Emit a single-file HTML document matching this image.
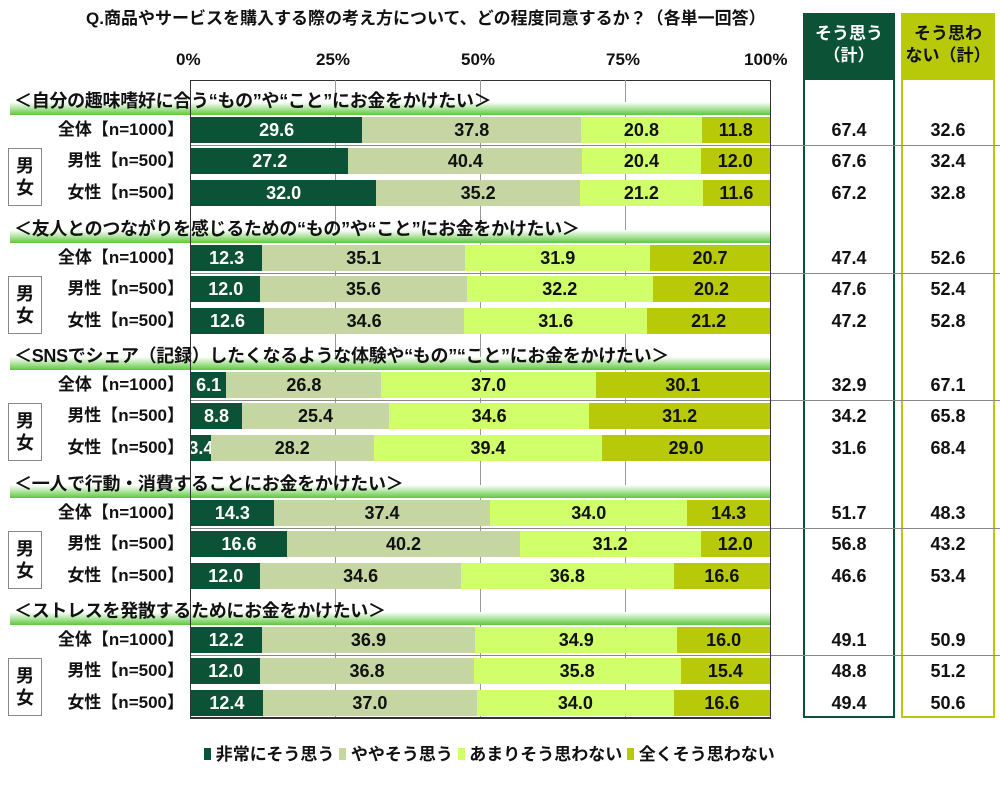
<!DOCTYPE html>
<html><head><meta charset="utf-8"><style>
body{margin:0;background:#fff;font-family:"Liberation Sans","Noto Sans CJK JP",sans-serif;font-weight:bold;color:#111}
#c{position:relative;width:1000px;height:786px;overflow:hidden}
.a{position:absolute}
.bar{position:absolute;left:191px;width:579px;height:26px;display:flex}
.bar div{height:100%;display:flex;align-items:center;justify-content:center;font-size:18px;overflow:visible;white-space:nowrap}
.d{background:#0c5236;color:#fff}.s{background:#c5d6a2}.l{background:#d0ff6a}.y{background:#b8c90a}
.lab{position:absolute;left:30px;width:154px;text-align:right;font-size:17px;line-height:26px;white-space:nowrap}
.hd{position:absolute;left:10px;width:760px;height:13px;background:linear-gradient(#fff,#5ec83c)}
.ht{position:absolute;left:14px;font-size:18px;white-space:nowrap;letter-spacing:-0.3px}
.v{position:absolute;font-size:18px;text-align:center;line-height:26px}
.mf{position:absolute;left:8px;width:34px;height:58px;border:1px solid #888;font-size:18px;text-align:center;line-height:22px;padding-top:6px;box-sizing:border-box}
.g{position:absolute;top:80px;height:638px;width:1px;background:#999}
.sep{position:absolute;left:190px;width:810px;height:1px;background:#888}
.t{position:absolute;top:50px;font-size:17px}
</style></head><body><div id="c">
<div class="a" style="left:86px;top:4px;font-size:17px;white-space:nowrap">Q.商品やサービスを購入する際の考え方について、どの程度同意するか？（各単一回答）</div>
<div class="t" style="left:176px">0%</div>
<div class="t" style="left:316px">25%</div>
<div class="t" style="left:461px">50%</div>
<div class="t" style="left:606px">75%</div>
<div class="t" style="left:744px">100%</div>
<div class="a" style="left:190px;top:80px;width:581px;height:1px;background:#333"></div>
<div class="g" style="left:335px"></div><div class="g" style="left:480px"></div><div class="g" style="left:625px"></div>
<div class="a" style="left:803px;top:13px;width:92px;height:705px;border:2px solid #0c5236;box-sizing:border-box"></div>
<div class="a" style="left:803px;top:13px;width:92px;height:67px;background:#0c5236;color:#fff;font-size:17px;text-align:center;line-height:22px;padding-top:10px;box-sizing:border-box">そう思う<br>（計）</div>
<div class="a" style="left:901px;top:13px;width:94px;height:705px;border:2px solid #b8c90a;box-sizing:border-box"></div>
<div class="a" style="left:901px;top:13px;width:94px;height:67px;background:#b8c90a;color:#111;font-size:17px;text-align:center;line-height:22px;padding-top:10px;box-sizing:border-box;white-space:nowrap">そう思わ<br>ない（計）</div>

<!-- S1 -->
<div class="hd" style="top:102px"></div><div class="ht" style="top:87px">＜自分の趣味嗜好に合う“もの”や“こと”にお金をかけたい＞</div>
<div class="lab" style="top:117px">全体【n=1000】</div>
<div class="bar" style="top:117px"><div class="d" style="width:29.6%">29.6</div><div class="s" style="width:37.8%">37.8</div><div class="l" style="width:20.8%">20.8</div><div class="y" style="width:11.8%">11.8</div></div>
<div class="v" style="left:803px;width:92px;top:117px">67.4</div><div class="v" style="left:901px;width:94px;top:117px">32.6</div>
<div class="sep" style="top:145px"></div>
<div class="mf" style="top:148px">男<br>女</div>
<div class="lab" style="top:148px">男性【n=500】</div>
<div class="bar" style="top:148px"><div class="d" style="width:27.2%">27.2</div><div class="s" style="width:40.4%">40.4</div><div class="l" style="width:20.4%">20.4</div><div class="y" style="width:12.0%">12.0</div></div>
<div class="v" style="left:803px;width:92px;top:148px">67.6</div><div class="v" style="left:901px;width:94px;top:148px">32.4</div>
<div class="lab" style="top:180px">女性【n=500】</div>
<div class="bar" style="top:180px"><div class="d" style="width:32.0%">32.0</div><div class="s" style="width:35.2%">35.2</div><div class="l" style="width:21.2%">21.2</div><div class="y" style="width:11.6%">11.6</div></div>
<div class="v" style="left:803px;width:92px;top:180px">67.2</div><div class="v" style="left:901px;width:94px;top:180px">32.8</div>

<!-- S2 -->
<div class="hd" style="top:230px"></div><div class="ht" style="top:215px">＜友人とのつながりを感じるための“もの”や“こと”にお金をかけたい＞</div>
<div class="lab" style="top:245px">全体【n=1000】</div>
<div class="bar" style="top:245px"><div class="d" style="width:12.3%">12.3</div><div class="s" style="width:35.1%">35.1</div><div class="l" style="width:31.9%">31.9</div><div class="y" style="width:20.7%">20.7</div></div>
<div class="v" style="left:803px;width:92px;top:245px">47.4</div><div class="v" style="left:901px;width:94px;top:245px">52.6</div>
<div class="sep" style="top:273px"></div>
<div class="mf" style="top:276px">男<br>女</div>
<div class="lab" style="top:276px">男性【n=500】</div>
<div class="bar" style="top:276px"><div class="d" style="width:12.0%">12.0</div><div class="s" style="width:35.6%">35.6</div><div class="l" style="width:32.2%">32.2</div><div class="y" style="width:20.2%">20.2</div></div>
<div class="v" style="left:803px;width:92px;top:276px">47.6</div><div class="v" style="left:901px;width:94px;top:276px">52.4</div>
<div class="lab" style="top:308px">女性【n=500】</div>
<div class="bar" style="top:308px"><div class="d" style="width:12.6%">12.6</div><div class="s" style="width:34.6%">34.6</div><div class="l" style="width:31.6%">31.6</div><div class="y" style="width:21.2%">21.2</div></div>
<div class="v" style="left:803px;width:92px;top:308px">47.2</div><div class="v" style="left:901px;width:94px;top:308px">52.8</div>

<!-- S3 -->
<div class="hd" style="top:357px"></div><div class="ht" style="top:342px">＜SNSでシェア（記録）したくなるような体験や“もの”“こと”にお金をかけたい＞</div>
<div class="lab" style="top:372px">全体【n=1000】</div>
<div class="bar" style="top:372px"><div class="d" style="width:6.1%">6.1</div><div class="s" style="width:26.8%">26.8</div><div class="l" style="width:37.0%">37.0</div><div class="y" style="width:30.1%">30.1</div></div>
<div class="v" style="left:803px;width:92px;top:372px">32.9</div><div class="v" style="left:901px;width:94px;top:372px">67.1</div>
<div class="sep" style="top:400px"></div>
<div class="mf" style="top:403px">男<br>女</div>
<div class="lab" style="top:403px">男性【n=500】</div>
<div class="bar" style="top:403px"><div class="d" style="width:8.8%">8.8</div><div class="s" style="width:25.4%">25.4</div><div class="l" style="width:34.6%">34.6</div><div class="y" style="width:31.2%">31.2</div></div>
<div class="v" style="left:803px;width:92px;top:403px">34.2</div><div class="v" style="left:901px;width:94px;top:403px">65.8</div>
<div class="lab" style="top:435px">女性【n=500】</div>
<div class="bar" style="top:435px"><div class="d" style="width:3.4%">3.4</div><div class="s" style="width:28.2%">28.2</div><div class="l" style="width:39.4%">39.4</div><div class="y" style="width:29.0%">29.0</div></div>
<div class="v" style="left:803px;width:92px;top:435px">31.6</div><div class="v" style="left:901px;width:94px;top:435px">68.4</div>

<!-- S4 -->
<div class="hd" style="top:485px"></div><div class="ht" style="top:470px">＜一人で行動・消費することにお金をかけたい＞</div>
<div class="lab" style="top:500px">全体【n=1000】</div>
<div class="bar" style="top:500px"><div class="d" style="width:14.3%">14.3</div><div class="s" style="width:37.4%">37.4</div><div class="l" style="width:34.0%">34.0</div><div class="y" style="width:14.3%">14.3</div></div>
<div class="v" style="left:803px;width:92px;top:500px">51.7</div><div class="v" style="left:901px;width:94px;top:500px">48.3</div>
<div class="sep" style="top:528px"></div>
<div class="mf" style="top:531px">男<br>女</div>
<div class="lab" style="top:531px">男性【n=500】</div>
<div class="bar" style="top:531px"><div class="d" style="width:16.6%">16.6</div><div class="s" style="width:40.2%">40.2</div><div class="l" style="width:31.2%">31.2</div><div class="y" style="width:12.0%">12.0</div></div>
<div class="v" style="left:803px;width:92px;top:531px">56.8</div><div class="v" style="left:901px;width:94px;top:531px">43.2</div>
<div class="lab" style="top:563px">女性【n=500】</div>
<div class="bar" style="top:563px"><div class="d" style="width:12.0%">12.0</div><div class="s" style="width:34.6%">34.6</div><div class="l" style="width:36.8%">36.8</div><div class="y" style="width:16.6%">16.6</div></div>
<div class="v" style="left:803px;width:92px;top:563px">46.6</div><div class="v" style="left:901px;width:94px;top:563px">53.4</div>

<!-- S5 -->
<div class="hd" style="top:612px"></div><div class="ht" style="top:597px">＜ストレスを発散するためにお金をかけたい＞</div>
<div class="lab" style="top:627px">全体【n=1000】</div>
<div class="bar" style="top:627px"><div class="d" style="width:12.2%">12.2</div><div class="s" style="width:36.9%">36.9</div><div class="l" style="width:34.9%">34.9</div><div class="y" style="width:16.0%">16.0</div></div>
<div class="v" style="left:803px;width:92px;top:627px">49.1</div><div class="v" style="left:901px;width:94px;top:627px">50.9</div>
<div class="sep" style="top:655px"></div>
<div class="mf" style="top:658px">男<br>女</div>
<div class="lab" style="top:658px">男性【n=500】</div>
<div class="bar" style="top:658px"><div class="d" style="width:12.0%">12.0</div><div class="s" style="width:36.8%">36.8</div><div class="l" style="width:35.8%">35.8</div><div class="y" style="width:15.4%">15.4</div></div>
<div class="v" style="left:803px;width:92px;top:658px">48.8</div><div class="v" style="left:901px;width:94px;top:658px">51.2</div>
<div class="lab" style="top:690px">女性【n=500】</div>
<div class="bar" style="top:690px"><div class="d" style="width:12.4%">12.4</div><div class="s" style="width:37.0%">37.0</div><div class="l" style="width:34.0%">34.0</div><div class="y" style="width:16.6%">16.6</div></div>
<div class="v" style="left:803px;width:92px;top:690px">49.4</div><div class="v" style="left:901px;width:94px;top:690px">50.6</div>

<div class="a" style="left:190px;top:80px;width:1px;height:638px;background:#333"></div>
<div class="a" style="left:770px;top:80px;width:1px;height:638px;background:#333"></div>
<div class="a" style="left:190px;top:717px;width:581px;height:2px;background:#333"></div>

<div class="a" style="left:204px;top:744px;font-size:17px;white-space:nowrap;line-height:22px">
<span style="display:inline-block;width:7px;height:12px;background:#0c5236"></span> 非常にそう思う <span style="display:inline-block;width:7px;height:12px;background:#c5d6a2"></span> ややそう思う <span style="display:inline-block;width:7px;height:12px;background:#d0ff6a"></span> あまりそう思わない <span style="display:inline-block;width:7px;height:12px;background:#b8c90a"></span> 全くそう思わない</div>
</div></body></html>
